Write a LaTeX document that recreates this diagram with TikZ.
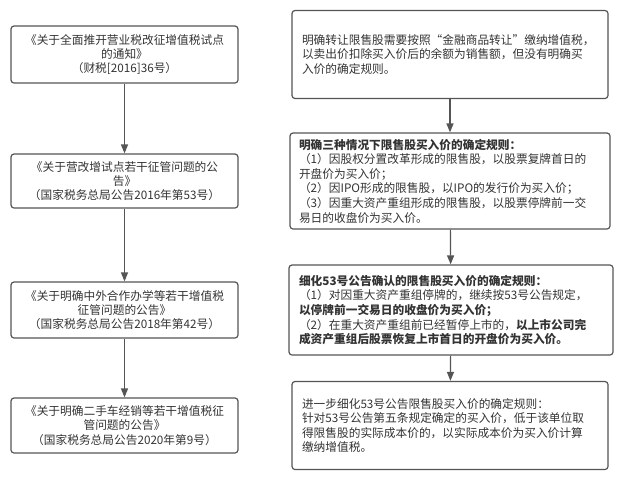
\documentclass[tikz,border=0pt]{standalone}
\usepackage{fontspec}
\setmainfont{Noto Sans CJK SC}
\usepackage{tikz}
\usetikzlibrary{arrows.meta}
\usetikzlibrary{positioning}

\definecolor{boxline}{HTML}{555555}
\definecolor{boxtext}{HTML}{333333}

\tikzset{
  doc/.style={draw=boxline,rounded corners=3pt,text=boxtext,align=center,
    minimum width=227pt,inner sep=0pt,font=\fontsize{11.7pt}{14.3pt}\selectfont},
  rulebox/.style={draw=boxline,rounded corners=3pt,text=boxtext,align=left,
    inner xsep=10pt,inner ysep=0pt,font=\fontsize{11.7pt}{14.6pt}\selectfont}
}

\begin{document}
\begin{tikzpicture} [->,>={Triangle[length=9pt,width=7pt]},node distance=126.5pt,line width=1.2pt,x=1pt,y=1pt]

  \useasboundingbox (0,0) rectangle (618,-485);

  \node[doc,minimum height=57pt] (l1) at (124.5,-54.5) {《关于全面推开营业税改征增值税试点\\的通知》\\（财税[2016]36号）};
  \node[doc,minimum height=54pt] (l2) [below of=l1] {《关于营改增试点若干征管问题的公\\告》\\（国家税务总局公告2016年第53号）};
  \node[doc,minimum height=56pt] (l3) [below of=l2,node distance=129pt] {《关于明确中外合作办学等若干增值税\\征管问题的公告》\\（国家税务总局公告2018年第42号）};
  \node[doc,minimum height=55pt] (l4) [below of=l3,node distance=115.5pt] {《关于明确二手车经销等若干增值税征\\管问题的公告》\\（国家税务总局公告2020年第9号）};

  \node[rulebox,text width=296pt,minimum height=88pt] (r1) [right of=l1,node distance=325.5pt]
    {明确转让限售股需要按照“金融商品转让”缴纳增值税，\\以卖出价扣除买入价后的余额为销售额，但没有明确买\\入价的确定规则。};
  \node[rulebox,text width=302pt,inner xsep=9pt,minimum height=96pt] (r2) [right of=l2,node distance=325.5pt]
    {\textbf{明确三种情况下限售股买入价的确定规则：}\\（1）因股权分置改革形成的限售股，以股票复牌首日的\\开盘价为买入价；\\（2）因IPO形成的限售股，以IPO的发行价为买入价；\\（3）因重大资产重组形成的限售股，以股票停牌前一交\\易日的收盘价为买入价。};
  \node[rulebox,text width=304pt,minimum height=90pt] (r3) [right of=l3,node distance=326.5pt]
    {\textbf{细化53号公告确认的限售股买入价的确定规则：}\\（1）对因重大资产重组停牌的，继续按53号公告规定，\\\textbf{以停牌前一交易日的收盘价为买入价；}\\（2）在重大资产重组前已经暂停上市的，\textbf{以上市公司完}\\\textbf{成资产重组后股票恢复上市首日的开盘价为买入价。}};
  \node[rulebox,text width=296pt,minimum height=88pt] (r4) [right of=l4,node distance=325.5pt]
    {进一步细化53号公告限售股买入价的确定规则：\\针对53号公告第五条规定确定的买入价，低于该单位取\\得限售股的实际成本价的，以实际成本价为买入价计算\\缴纳增值税。};

  \path[every edge/.style={draw=boxline}]
    (l1) edge (l2)
    (l2) edge (l3)
    (l3) edge (l4)
    (r1) edge (r2)
    (r2) edge (r3)
    (r3) edge (r4);

\end{tikzpicture}
\end{document}
